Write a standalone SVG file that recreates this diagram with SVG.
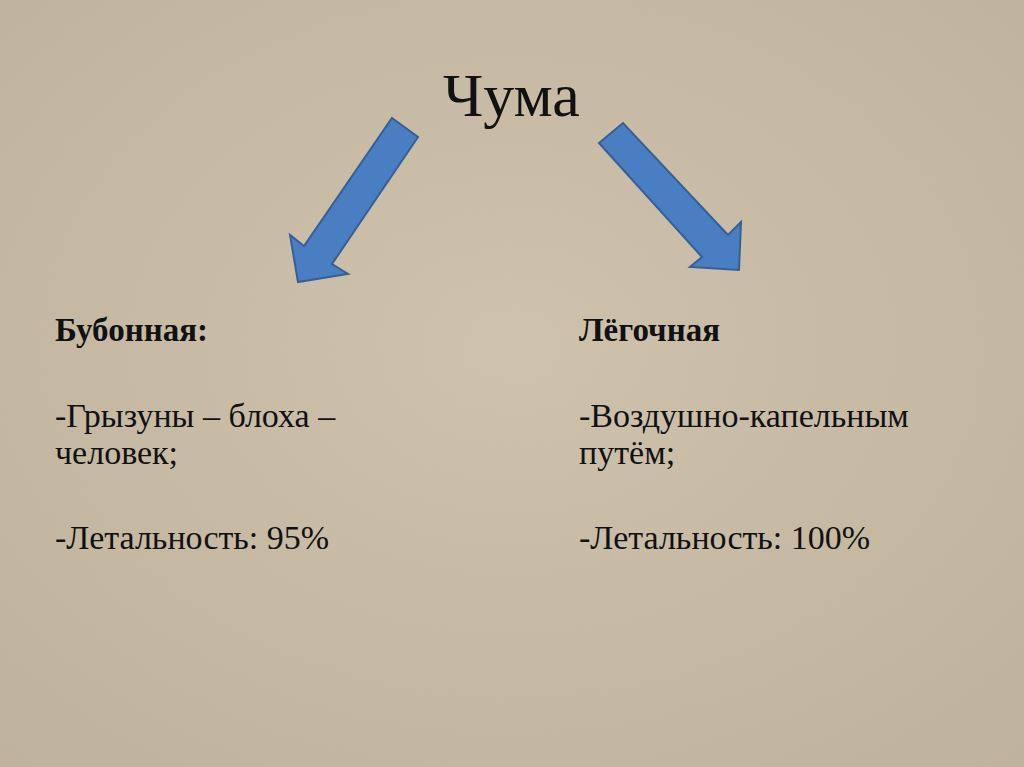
<svg xmlns="http://www.w3.org/2000/svg" width="1024" height="767" viewBox="0 0 1024 767">
<defs>
<filter id="grain" x="0" y="0" width="100%" height="100%">
<feTurbulence type="fractalNoise" baseFrequency="0.8" numOctaves="3" seed="3" result="n"/>
<feColorMatrix in="n" type="matrix" values="0 0 0 0 0.5  0 0 0 0 0.45  0 0 0 0 0.38  0 0 0 0.22 0"/>
</filter>
<radialGradient id="bg" cx="50%" cy="45%" r="75%">
<stop offset="0" stop-color="#d0c4ae"/>
<stop offset="1" stop-color="#c0b29b"/>
</radialGradient>
</defs>
<style>
.t{font-family:"Liberation Serif","Times New Roman",serif;fill:#111;}
.h{font-size:62px;}
.b{font-size:33px;font-weight:bold;}
.n{font-size:34px;}
.arr{fill:#4a7ec2;stroke:#365f94;stroke-width:2;stroke-linejoin:miter;}
</style>
<rect width="1024" height="767" fill="url(#bg)"/>
<rect width="1024" height="767" filter="url(#grain)"/>
<g id="title"><text class="t h" x="443" y="116">Чума</text></g>
<g id="connectors">
<polygon class="arr" points="392,118 418,137 332,264 348,274 298,282 290,235 304,246"/>
<polygon class="arr" points="599,143 623,123 728,235 741,222 739,270 690,267 702,257"/>
</g>
<g id="bubonic">
<text class="t b" x="55" y="341">Бубонная:</text>
<text class="t n" x="55" y="427">-Грызуны – блоха –</text>
<text class="t n" x="55" y="464">человек;</text>
<text class="t n" x="55" y="549">-Летальность: 95%</text>
</g>
<g id="pneumonic">
<text class="t b" x="579" y="341">Лёгочная</text>
<text class="t n" x="579" y="427">-Воздушно-капельным</text>
<text class="t n" x="579" y="464">путём;</text>
<text class="t n" x="579" y="549">-Летальность: 100%</text>
</g>
</svg>
